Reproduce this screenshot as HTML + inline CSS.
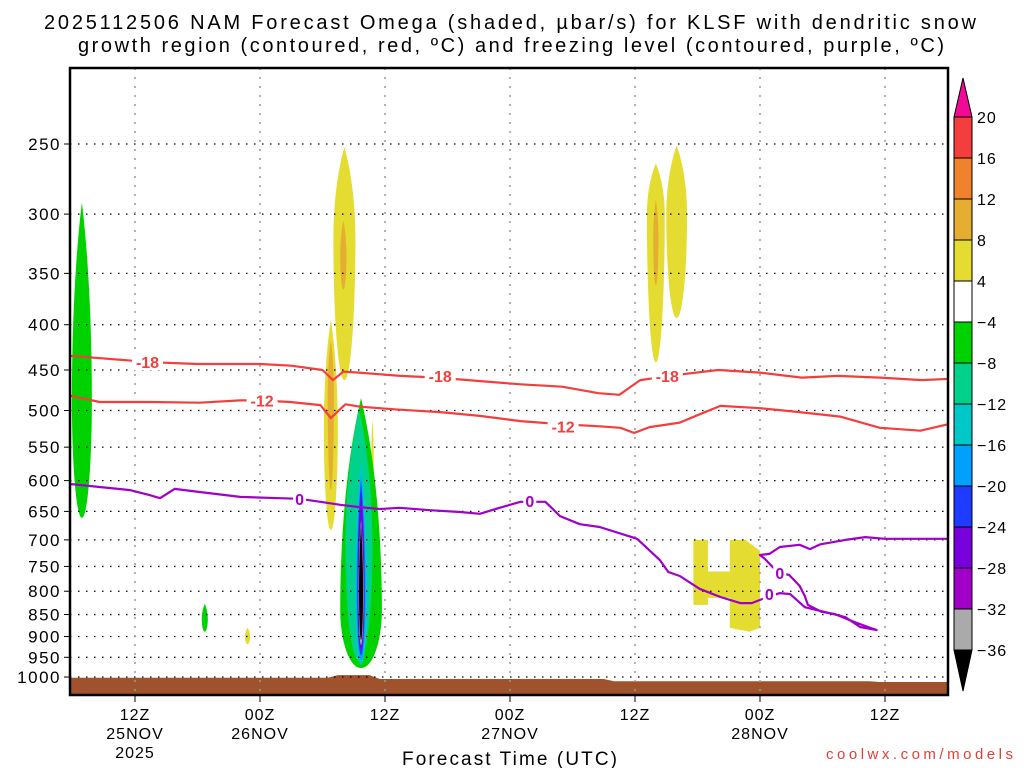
<!DOCTYPE html>
<html><head><meta charset="utf-8">
<style>
body{margin:0;background:#fff;}
svg{display:block;font-family:"Liberation Sans",sans-serif;}
</style></head>
<body>
<svg id="chart" width="1024" height="768" viewBox="0 0 1024 768" xmlns="http://www.w3.org/2000/svg">
<text x="44" y="29" font-size="20" textLength="932" lengthAdjust="spacing" fill="#000">2025112506 NAM Forecast Omega (shaded, µbar/s) for KLSF with dendritic snow</text>
<text x="78" y="52" font-size="20" textLength="866" lengthAdjust="spacing" fill="#000">growth region (contoured, red, ºC) and freezing level (contoured, purple, ºC)</text>
<defs><clipPath id="plotclip"><rect x="70" y="68" width="878" height="627"/></clipPath></defs>
<g id="shading" clip-path="url(#plotclip)"></g>
<g id="grid"></g>
<g id="contours" clip-path="url(#plotclip)"></g>
<rect x="70" y="68" width="878" height="627" fill="none" stroke="#000" stroke-width="2.5"/>
<g id="axes"></g>
<g id="colorbar"></g>
<text x="402" y="765" font-size="19" textLength="215" lengthAdjust="spacing" fill="#000">Forecast Time (UTC)</text>
<text x="826" y="759" font-size="15" textLength="187" lengthAdjust="spacing" fill="#e0403a">coolwx.com/models</text>
</svg>
<script>
// ---- data ----
const pressureTicks = [250,300,350,400,450,500,550,600,650,700,750,800,850,900,950,1000];
const timeTickHours = [6,18,30,42,54,66,78];
const timeTickLine1 = ["12Z","00Z","12Z","00Z","12Z","00Z","12Z"];
const timeTickLine2 = ["25NOV","26NOV","","27NOV","","28NOV",""];
const timeTickLine3 = ["2025","","","","","",""];
const cbarLabels = ["20","16","12","8","4","−4","−8","−12","−16","−20","−24","−28","−32","−36"];
const cbarColors = ["#f43e3e","#f0822d","#e5ad31","#e5dc31","#ffffff","#00d200","#00d28c","#00c8c8","#00a0ff","#1e3cff","#7800dc","#a000c8","#aaaaaa"];
// lens blobs: [centerHour, halfWidthHours, pTop, pBottom, pWidest, colorIndex]
const blobHours  = [0.9, 12.7, 16.8, 26.1, 24.8, 26.0, 24.8, 28.8, 56.0, 58.0, 56.0, 27.7, 27.5, 27.7, 27.7, 27.7, 27.7, 27.7, 27.7];
const blobWidths = [0.96,0.29, 0.25, 1.06, 0.67, 0.30, 0.30, 0.12, 0.86, 1.0, 0.25, 2.0, 1.3, 0.6, 0.45, 0.36, 0.3, 0.24, 0.19];
const blobTops   = [291, 827, 880, 252, 395, 305, 416, 512, 263, 251, 289, 484, 499, 569, 590, 599, 615, 665, 674];
const blobBottoms= [661, 889, 918, 462, 682, 365, 615, 631, 441, 393, 361, 977, 958, 969, 958, 945, 932, 920, 908];
const blobWidest = [487, 860, 900, 321, 526, 335, 480, 570, 301, 301, 320, 840, 720, 800, 800, 800, 800, 800, 800];
const blobColor  = [5, 5, 3, 3, 3, 2, 2, 3, 3, 3, 2, 5, 6, 7, 8, 9, 10, 12, 13];
// blocky yellow region near 27-28 Nov
const blockHours = [59.6,61,61,63.1,63.1,64.6,66,66,65,63.1,63.1,61,61,59.6];
const blockPres  = [700,700,760,760,700,700,720,880,889,880,814,814,829,829];
// terrain
const terrainHours = [-1,24.5,25.5,28.5,29.5,51,52,76.5,77.5,85];
const terrainPres  = [1002,1002,995,995,1005,1005,1011,1011,1013,1013];
// -18 C contour
const c18Hours = [-1,7.5,12,18,21,24,25,26,27.5,31.5,35,39,43,47,50.5,52.5,54.5,58.5,62,66,70,73.5,77.5,81.5,85];
const c18Pres  = [433,441,443,443,445,450,462,452,453,457,459,463,467,470,478,480,462,455,450,453,459,457,459,462,460];
// -12 C contour
const c12Hours = [-1,2.6,7.4,12.2,16.1,18,20.9,23.8,24.8,26.2,27.6,31.4,35.3,39.1,43,46.8,50.6,52.6,53.9,55.4,58.3,60.2,62.2,66,69.8,73.7,77.5,81.4,85];
const c12Pres  = [479,489,489,490,487,487,489,493,510,492,495,499,502,507,514,518,521,523,530,522,516,505,494,497,502,508,523,527,515];
// 0 C (freezing level) contour
const c0Hours = [-1,2.6,5.5,7.4,8.4,9.8,12.2,16.1,19.9,21.8,23.8,25.7,27.6,29.5,31.4,34.3,37.2,39.1,41,43,45.4,46.8,48.7,50.6,54.2,56.4,57.2,58.3,60.2,62.2,64.1,65.2,66.5,67.9,68.9,70.3,72.7,74.2,75.6,77.2,76.6,75.1,73.2,71.9,70.6,70.3,69.8,68.8,67.9,67.2,66.5,66,66.9,67.9,69.8,70.8,71.8,74.2,76.1,78,80.9,85];
const c0Pres  = [604,610,615,623,628,613,618,626,628,629,634,639,643,646,644,648,651,654,644,634,634,658,672,677,698,738,761,769,795,812,825,825,814,804,806,834,847,856,878,885,880,867,849,844,829,810,789,767,763,751,736,728,726,713,709,717,708,700,695,698,698,698];
// contour labels
const redLabelText = ["-18","-18","-18","-12","-12"];
const redLabelHours = [7.2,35.3,57.1,18.2,47.1];
const redLabelPres = [441,457,457,487,521];
const purpleLabelText = ["0","0","0","0"];
const purpleLabelHours = [21.8,43.9,67.9,66.9];
const purpleLabelPres = [629,633,763,806];

// ---- scales ----
const X0 = 72.5, PXH = 125/12;
function xs(h){ return X0 + h*PXH; }
function ys(p){ return 144 + 384.5*Math.log(p/250); }
const NS = "http://www.w3.org/2000/svg";
function mk(tag, parent){ const e=document.createElementNS(NS,tag); parent.appendChild(e); return e; }

const shading = document.getElementById('shading');
const grid = document.getElementById('grid');
const contours = document.getElementById('contours');
const axes = document.getElementById('axes');
const cbar = document.getElementById('colorbar');

// terrain
let tp = "M"+xs(terrainHours[0])+",700";
for(let i=0;i<terrainHours.length;i++){ tp += " L"+xs(terrainHours[i])+","+ys(terrainPres[i]); }
tp += " L"+xs(terrainHours[terrainHours.length-1])+",700 Z";
const terr = mk('path', shading);


terr.setAttribute('d', tp); terr.setAttribute('fill', '#a0522d');

// blobs
for(let i=0;i<blobHours.length;i++){
  const xc=xs(blobHours[i]), w=blobWidths[i]*PXH;
  const yt=ys(blobTops[i]), yb=ys(blobBottoms[i]), yw=ys(blobWidest[i]);
  const d = `M${xc},${yt} C${xc-w*0.6},${yt+(yw-yt)*0.25} ${xc-w},${yw-(yw-yt)*0.4} ${xc-w},${yw} C${xc-w},${yw+(yb-yw)*0.5} ${xc-w*0.6},${yb} ${xc},${yb} C${xc+w*0.6},${yb} ${xc+w},${yw+(yb-yw)*0.5} ${xc+w},${yw} C${xc+w},${yw-(yw-yt)*0.4} ${xc+w*0.6},${yt+(yw-yt)*0.25} ${xc},${yt} Z`;
  const b = mk('path', shading);
  
  
  b.setAttribute('d', d);
  b.setAttribute('fill', blobColor[i]===13 ? '#000000' : cbarColors[blobColor[i]]);
}
let bp = "";
for(let i=0;i<blockHours.length;i++){ bp += (i?" L":"M")+xs(blockHours[i])+","+ys(blockPres[i]); }
const blk = mk('path', shading);


blk.setAttribute('d', bp+" Z"); blk.setAttribute('fill', cbarColors[3]);

// grid
pressureTicks.forEach(p=>{
  const l = mk('line', grid);
  
  
  l.setAttribute('x1',70); l.setAttribute('x2',948); l.setAttribute('y1',ys(p)); l.setAttribute('y2',ys(p));
  l.setAttribute('stroke','#000'); l.setAttribute('stroke-width','1.3'); l.setAttribute('stroke-dasharray','1.5 6.5');
  const t = mk('line', axes);
  
  
  t.setAttribute('x1',64); t.setAttribute('x2',70); t.setAttribute('y1',ys(p)); t.setAttribute('y2',ys(p)); t.setAttribute('stroke','#000');
  const tx = mk('text', axes);
  
  
  tx.setAttribute('x',61); tx.setAttribute('y',ys(p)+6); tx.setAttribute('font-size','17'); tx.setAttribute('text-anchor','end'); tx.setAttribute('letter-spacing','1.5');
  tx.textContent = p;
});
timeTickHours.forEach((h,i)=>{
  const l = mk('line', grid);
  
  
  l.setAttribute('x1',xs(h)); l.setAttribute('x2',xs(h)); l.setAttribute('y1',68); l.setAttribute('y2',695);
  l.setAttribute('stroke','#999'); l.setAttribute('stroke-width','1.5'); l.setAttribute('stroke-dasharray','2 7');
  const t = mk('line', axes);
  
  
  t.setAttribute('x1',xs(h)); t.setAttribute('x2',xs(h)); t.setAttribute('y1',695); t.setAttribute('y2',702); t.setAttribute('stroke','#000');
  [timeTickLine1[i],timeTickLine2[i],timeTickLine3[i]].forEach((s,k)=>{
    if(!s) return;
    const tx = mk('text', axes);
    
    
    tx.setAttribute('x',xs(h)); tx.setAttribute('y',720+k*19); tx.setAttribute('font-size','16'); tx.setAttribute('text-anchor','middle'); tx.setAttribute('letter-spacing','1');
    tx.textContent = s;
  });
});

// contours
function line(hours, pres, color, name){
  let d="";
  for(let i=0;i<hours.length;i++){ d += (i?" L":"M")+xs(hours[i]).toFixed(1)+","+ys(pres[i]).toFixed(1); }
  const l = mk('path', contours);
  
  
  l.setAttribute('d', d); l.setAttribute('fill','none'); l.setAttribute('stroke',color); l.setAttribute('stroke-width','2.2'); l.setAttribute('stroke-linejoin','round');
}
line(c18Hours,c18Pres,'#f43e3e','contour-minus18');
line(c12Hours,c12Pres,'#f43e3e','contour-minus12');
line(c0Hours,c0Pres,'#a000c8','freezing-level-contour');
function labels(texts, hours, pres, color){
  texts.forEach((s,i)=>{
    const x=xs(hours[i]), y=ys(pres[i]);
    const w = s.length*9+4;
    const r = mk('rect', contours);
    
    
    r.setAttribute('x',x-w/2); r.setAttribute('y',y-8); r.setAttribute('width',w); r.setAttribute('height',16); r.setAttribute('fill','#fff');
    const t = mk('text', contours);
    
    
    t.setAttribute('x',x); t.setAttribute('y',y+6); t.setAttribute('font-size','16'); t.setAttribute('font-weight','bold'); t.setAttribute('text-anchor','middle'); t.setAttribute('fill',color);
    t.textContent = s;
  });
}
labels(redLabelText, redLabelHours, redLabelPres, '#f43e3e');
labels(purpleLabelText, purpleLabelHours, purpleLabelPres, '#a000c8');

// colorbar
const CB_X=954, CB_W=18, CB_TOP=117, CB_STEP=41;
const topTri = mk('path', cbar);


topTri.setAttribute('d', `M${CB_X},${CB_TOP} L${CB_X+CB_W/2},78 L${CB_X+CB_W},${CB_TOP} Z`);
topTri.setAttribute('fill','#f00a96'); topTri.setAttribute('stroke','#000');
cbarColors.forEach((c,i)=>{
  const r = mk('rect', cbar);
  
  
  r.setAttribute('x',CB_X); r.setAttribute('y',CB_TOP+i*CB_STEP); r.setAttribute('width',CB_W); r.setAttribute('height',CB_STEP);
  r.setAttribute('fill',c); r.setAttribute('stroke','#000');
});
const botY = CB_TOP+cbarColors.length*CB_STEP;
const botTri = mk('path', cbar);


botTri.setAttribute('d', `M${CB_X},${botY} L${CB_X+CB_W/2},${botY+41} L${CB_X+CB_W},${botY} Z`);
botTri.setAttribute('fill','#000'); botTri.setAttribute('stroke','#000');
cbarLabels.forEach((s,i)=>{
  const t = mk('text', cbar);
  
  
  t.setAttribute('x',977); t.setAttribute('y',CB_TOP+i*CB_STEP+6); t.setAttribute('font-size','16'); t.setAttribute('letter-spacing','1');
  t.textContent = s;
});
</script>
</body></html>
